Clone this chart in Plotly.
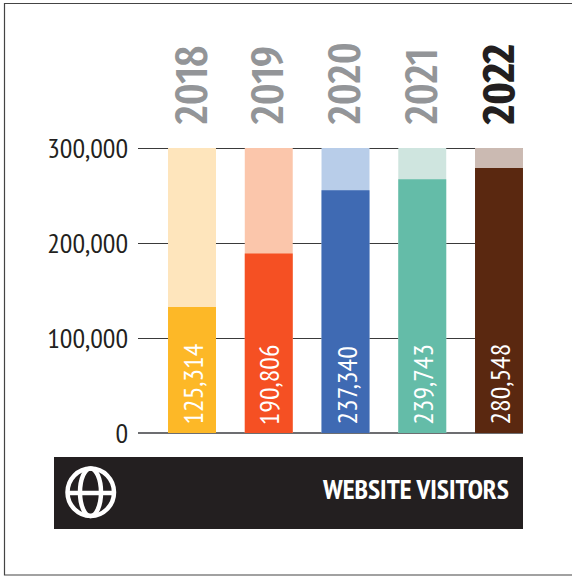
import plotly.graph_objects as go

years = ["2018", "2019", "2020", "2021", "2022"]
bar_heights = [132500, 189000, 255500, 267000, 279000]
value_labels = ["125,314", "190,806", "237,340", "239,743", "280,548"]
scale_top = [300000, 300000, 300000, 300000, 300000]
bar_colors = ["#FDB827", "#F55023", "#3F6AB3", "#64BCA8", "#5A2810"]
tint_colors = ["#FEE5BC", "#FBC6AB", "#B8CDE9", "#CFE5DF", "#CBBAB2"]
year_colors = ["#939598", "#939598", "#939598", "#939598", "#231F20"]
y_ticks = [0, 100000, 200000, 300000]
y_tick_labels = ["0", "100,000", "200,000", "300,000"]
band_title = "WEBSITE VISITORS"

W, H = 572, 576
L, R, T, B = 138, 523, 146, 433
Y_MAX = 302105
FONT = "'PT Sans Narrow','Archivo Narrow','Roboto Condensed','Liberation Sans',sans-serif"
YEAR_FONT = "'Fira Sans Extra Condensed','PT Sans Narrow','Archivo Narrow',sans-serif"
DARK = "#231F20"


def px(x):
    return (x - L) / (R - L)


def py(y):
    return (B - y) / (B - T)


def paper_shape(kind, x0, y0, x1, y1, **kw):
    return dict(type=kind, xref="paper", yref="paper", x0=px(x0), x1=px(x1),
                y0=py(y0), y1=py(y1), **kw)


ticktext = [
    f'<span style="color:{c}">{"<b>" + y + "</b>" if c == DARK else y}</span>'
    for y, c in zip(years, year_colors)
]

fig = go.Figure()
fig.add_bar(x=years, y=scale_top, marker=dict(color=tint_colors, line_width=0),
            width=0.625, hoverinfo="skip", showlegend=False)
fig.add_bar(x=years, y=bar_heights, marker=dict(color=bar_colors, line_width=0),
            width=0.625, hoverinfo="skip", showlegend=False)

white_line = dict(color="white", width=4.5)
shapes = [
    paper_shape("rect", 4.5, 3.5, 580, 575, line=dict(color="#444444", width=1.2),
                fillcolor="rgba(0,0,0,0)", layer="below"),
    paper_shape("rect", 54, 457, 523, 529, line_width=0, fillcolor=DARK),
    paper_shape("circle", 67.5, 468.5, 114, 516, line=white_line),
    paper_shape("circle", 80, 468.5, 101, 516, line=white_line),
    paper_shape("line", 68, 493, 113, 493, line=white_line),
]

annotations = [dict(text=f"<b>{band_title}</b>", xref="paper", yref="paper",
                    x=px(510.5), y=py(489), xanchor="right", yanchor="middle",
                    showarrow=False, font=dict(family=FONT, size=27.5, color="white"))]
for i, label in enumerate(value_labels):
    annotations.append(dict(text=label, x=i, y=0, xref="x", yref="y", textangle=-90,
                            xanchor="center", yanchor="bottom", yshift=6, showarrow=False,
                            font=dict(family=FONT, size=28, color="white")))

fig.update_layout(
    width=W, height=H, autosize=False,
    margin=dict(l=L, r=W - R, t=T, b=H - B, pad=0),
    paper_bgcolor="white", plot_bgcolor="white",
    barmode="overlay", showlegend=False,
    font=dict(family=FONT, color=DARK),
    xaxis=dict(type="category", side="top", range=[-0.7036, 4.3127],
               tickmode="array", tickvals=years, ticktext=ticktext,
               tickangle=-90, tickfont=dict(family=YEAR_FONT, size=45, weight=500),
               ticklabelstandoff=21, ticks="", showgrid=False, showline=False,
               zeroline=False),
    yaxis=dict(range=[0, Y_MAX], tickmode="array", tickvals=y_ticks,
               ticktext=y_tick_labels, tickfont=dict(family=FONT, size=28, color=DARK),
               ticklabelstandoff=9, ticks="", showgrid=True, gridcolor="#3A3A3A",
               gridwidth=1.2, zeroline=True, zerolinecolor="#6D6E71", zerolinewidth=2,
               showline=False),
    shapes=shapes,
    annotations=annotations,
)

fig.write_html("out.html", config={"displayModeBar": False},
               post_script="document.body.style.margin='0';document.body.style.overflow='hidden';")
